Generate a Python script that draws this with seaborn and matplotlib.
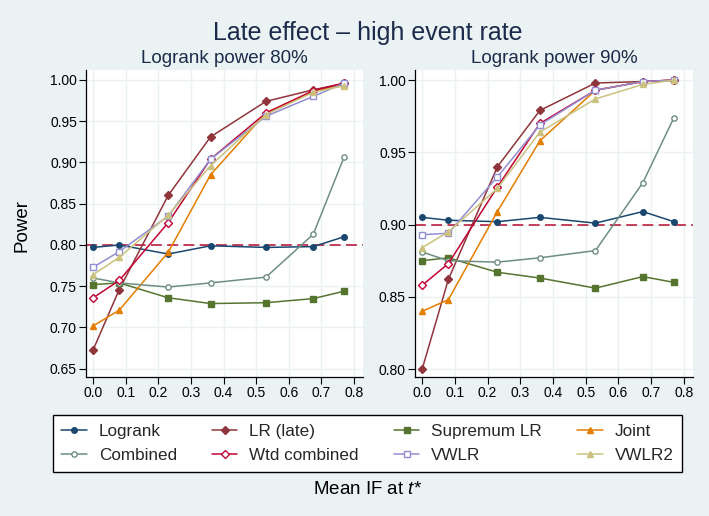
import numpy as np
import pandas as pd
import matplotlib
matplotlib.use("Agg")
import matplotlib.pyplot as plt
import seaborn as sns

# Mean IF at t* (same for both panels)
mean_if = [0.0, 0.08, 0.23, 0.36, 0.53, 0.675, 0.77]

# Logrank power 80%
logrank_80 = [0.797, 0.800, 0.789, 0.799, 0.797, 0.798, 0.810]
lr_late_80 = [0.673, 0.746, 0.860, 0.931, 0.974, 0.988, 0.996]
suprem_80 = [0.752, 0.754, 0.736, 0.729, 0.730, 0.735, 0.744]
joint_80 = [0.702, 0.721, 0.791, 0.885, 0.960, 0.986, 0.994]
combined_80 = [0.760, 0.754, 0.749, 0.754, 0.761, 0.813, 0.907]
wtd_comb_80 = [0.736, 0.757, 0.827, 0.904, 0.960, 0.987, 0.996]
vwlr_80 = [0.773, 0.792, 0.835, 0.904, 0.956, 0.980, 0.996]
vwlr2_80 = [0.764, 0.785, 0.836, 0.896, 0.958, 0.985, 0.993]

# Logrank power 90%
logrank_90 = [0.905, 0.903, 0.902, 0.905, 0.901, 0.909, 0.902]
lr_late_90 = [0.800, 0.862, 0.940, 0.979, 0.998, 0.999, 1.000]
suprem_90 = [0.875, 0.877, 0.867, 0.863, 0.856, 0.864, 0.860]
joint_90 = [0.840, 0.848, 0.909, 0.958, 0.993, 0.999, 1.000]
combined_90 = [0.881, 0.875, 0.874, 0.877, 0.882, 0.929, 0.974]
wtd_comb_90 = [0.858, 0.873, 0.926, 0.970, 0.993, 0.999, 1.000]
vwlr_90 = [0.893, 0.894, 0.933, 0.969, 0.993, 0.999, 1.000]
vwlr2_90 = [0.884, 0.895, 0.925, 0.964, 0.987, 0.997, 1.000]

methods = ["Logrank", "LR (late)", "Supremum LR", "Joint",
           "Combined", "Wtd combined", "VWLR", "VWLR2"]
panel_titles = ["Logrank power 80%", "Logrank power 90%"]
ref_power = [0.80, 0.90]
x_ticks = [0.0, 0.1, 0.2, 0.3, 0.4, 0.5, 0.6, 0.7, 0.8]
y_ticks_80 = [0.65, 0.70, 0.75, 0.80, 0.85, 0.90, 0.95, 1.00]
y_ticks_90 = [0.80, 0.85, 0.90, 0.95, 1.00]

series_80 = [logrank_80, lr_late_80, suprem_80, joint_80,
             combined_80, wtd_comb_80, vwlr_80, vwlr2_80]
series_90 = [logrank_90, lr_late_90, suprem_90, joint_90,
             combined_90, wtd_comb_90, vwlr_90, vwlr2_90]

# stata s2color-like palette and markers
colors = ["#1a476f", "#90353b", "#55752f", "#e37e00",
          "#6e8e84", "#c10534", "#938dd2", "#cac27e"]
markers = ["o", "D", "s", "^", "o", "D", "s", "^"]
hollow = [False, False, False, False, True, True, True, False]
msizes = [4, 4, 4, 4.8, 3.8, 3.8, 3.8, 4.8]

bg = "#eaf2f3"
navy_txt = "#1c2b4b"

sns.set_style("white")
plt.rcParams["font.family"] = ["Liberation Sans", "DejaVu Sans"]
plt.rcParams["mathtext.fontset"] = "custom"
plt.rcParams["mathtext.it"] = "Liberation Sans:italic"
plt.rcParams["mathtext.rm"] = "Liberation Sans"

fig = plt.figure(figsize=(7.09, 5.16), dpi=100, facecolor=bg)
ax_l = fig.add_axes([86 / 709, 1 - 377 / 516, 277 / 709, 307 / 516])
ax_r = fig.add_axes([415 / 709, 1 - 377 / 516, 277.7 / 709, 307 / 516])

panels = [
    (ax_l, series_80, y_ticks_80, (0.640, 1.012)),
    (ax_r, series_90, y_ticks_90, (0.7945, 1.007)),
]

for i, (ax, series, yt, ylim) in enumerate(panels):
    ax.set_facecolor("white")
    df = pd.DataFrame({"mean_if": mean_if})
    for k, name in enumerate(methods):
        df[name] = series[k]
    ax.axhline(ref_power[i], color="#c0304f", lw=1.3, ls=(0, (6, 3)), zorder=2)
    for k, name in enumerate(methods):
        sns.lineplot(data=df, x="mean_if", y=name, ax=ax, sort=False,
                     color=colors[k], lw=1.1, marker=markers[k],
                     markersize=msizes[k],
                     markerfacecolor="white" if hollow[k] else colors[k],
                     markeredgecolor=colors[k], markeredgewidth=1.0,
                     label=name, zorder=3 + k)
    ax.set_xlim(-0.022, 0.8275)
    ax.set_ylim(*ylim)
    ax.set_xticks(x_ticks)
    ax.set_xticklabels([f"{t:.1f}" for t in x_ticks])
    ax.set_yticks(yt)
    ax.set_yticklabels([f"{t:.2f}" for t in yt])
    ax.grid(True, color=bg, lw=1.0)
    ax.set_axisbelow(True)
    ax.set_xlabel("")
    ax.set_ylabel("")
    for s in ["top", "right"]:
        ax.spines[s].set_visible(False)
    for s in ["left", "bottom"]:
        ax.spines[s].set_color("black")
        ax.spines[s].set_linewidth(0.9)
    ax.tick_params(direction="out", length=5, width=0.8, color="black",
                   labelsize=10, labelcolor="black", pad=1.5,
                   left=True, bottom=True)
    ax.set_title(panel_titles[i], fontsize=13.5, color=navy_txt, pad=5)
    if ax.get_legend() is not None:
        ax.get_legend().remove()

# legend in stata row order -> matplotlib column-major order
handles, labels = ax_l.get_legend_handles_labels()
lookup = dict(zip(labels, handles))
order = ["Logrank", "Combined", "LR (late)", "Wtd combined",
         "Supremum LR", "VWLR", "Joint", "VWLR2"]
leg = fig.legend([lookup[n] for n in order], order, ncol=4,
                 loc="lower left",
                 bbox_to_anchor=(52.7 / 709, 1 - 471.7 / 516,
                                 629.3 / 709, 57.4 / 516),
                 mode="expand", fontsize=12.3, frameon=True, fancybox=False,
                 edgecolor="black", facecolor="white", framealpha=1,
                 handlelength=1.5, handletextpad=0.7, labelspacing=0.55,
                 borderpad=0.5, borderaxespad=0)
leg.get_frame().set_linewidth(1.0)

fig.text(368 / 709, 1 - 33 / 516, "Late effect \u2013 high event rate",
         ha="center", va="center", fontsize=18, color=navy_txt)
fig.text(22 / 709, 1 - 225 / 516, "Power", rotation=90, ha="center",
         va="center", fontsize=13.5, color="black")
fig.text(368 / 709, 1 - 490 / 516, r"Mean IF at $t$*", ha="center",
         va="center", fontsize=13.5, color="black")

fig.savefig("out.png", dpi=100, facecolor=bg)
